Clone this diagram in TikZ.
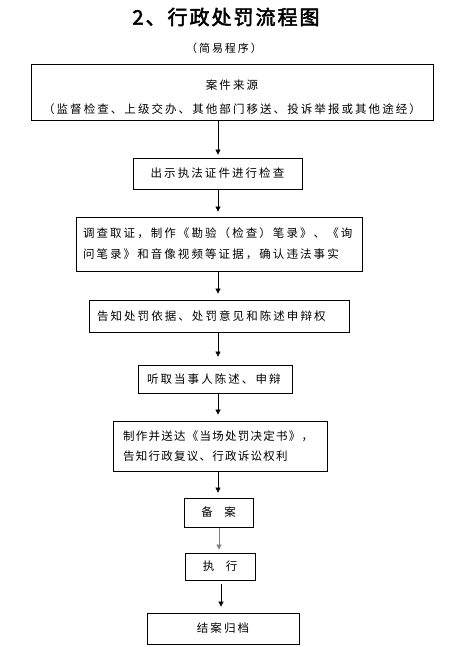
\documentclass[tikz,border=0pt]{standalone}
\usepackage{fontspec}
\setmainfont{Noto Sans CJK SC}[LetterSpace=18]
\newfontfamily\titlefont[FakeBold=2.5,LetterSpace=10]{Noto Sans CJK SC}
\usetikzlibrary{arrows.meta}
\tikzset{
  box/.style={draw=black, line width=0.8pt, rectangle, inner sep=0pt,
    font=\fontsize{11.5}{21}\selectfont, anchor=center},
  lbox/.style={box, align=left},
  cbox/.style={box, align=center},
  arr/.style={draw=black, line width=0.7pt, -{Triangle[length=5pt,width=5pt]}},
}
\begin{document}
\begin{tikzpicture}[x=1pt,y=-1pt]
\useasboundingbox (0,0) rectangle (458,647);
\fill[white] (0,0) rectangle (458,647);
\node[font=\titlefont\fontsize{20}{24}\selectfont] (title) at (226,17) {2、行政处罚流程图};
\node[font=\fontsize{11}{13}\selectfont] (sub) at (224,48) {（简易程序）};

\node[cbox, minimum width=402pt, minimum height=56pt] (b1) at (232,92)
  {\rule{0pt}{20pt}案件来源\\[3pt]（监督检查、上级交办、其他部门移送、投诉举报或其他途经）};
\node[cbox, minimum width=169pt, minimum height=31pt] (b2) at (217.5,173.5) {出示执法证件进行检查};
\node[lbox, text width=272pt, inner xsep=7pt, minimum height=54pt] (b3) at (219,244)
  {调查取证，制作《勘验（检查）笔录》、《询\\问笔录》和音像视频等证据，确认违法事实};
\node[lbox, text width=244pt, inner xsep=8pt, minimum height=32pt] (b4) at (219,316) {告知处罚依据、处罚意见和陈述申辩权};
\node[lbox, text width=136pt, inner xsep=9pt, minimum height=28pt] (b5) at (215,379) {听取当事人陈述、申辩};
\node[lbox, text width=194pt, inner xsep=10pt, minimum height=50pt, font=\fontsize{11.5}{20}\selectfont\addfontfeature{LetterSpace=11}] (b6) at (220,446)
  {制作并送达《当场处罚决定书》，\\告知行政复议、行政诉讼权利};
\node[cbox, minimum width=69pt, minimum height=29pt] (b7) at (218.5,512.5) {备\hspace{1em}案};
\node[cbox, minimum width=70pt, minimum height=27pt] (b8) at (220,566.5) {执\hspace{1em}行};
\node[cbox, minimum width=152pt, minimum height=31pt] (b9) at (223,628.5) {结案归档};

\coordinate (ax) at (218,0);
\coordinate (bx) at (219,0);
\coordinate (cx) at (221,0);
\draw[arr, shorten >=3pt] (b1.south -| ax) -- (b2.north -| ax);
\draw[arr, shorten >=5pt] (b2.south -| ax) -- (b3.north -| ax);
\draw[arr, shorten >=6pt] (b3.south -| ax) -- (b4.north -| ax);
\draw[arr, shorten >=8pt] (b4.south -| ax) -- (b5.north -| ax);
\draw[arr, shorten >=6pt] (b5.south -| ax) -- (b6.north -| ax);
\draw[arr, shorten >=5pt] (b6.south -| ax) -- (b7.north -| ax);
\draw[arr, draw=gray, shorten <=1pt, shorten >=3pt] (b7.south -| bx) -- (b8.north -| bx);
\draw[arr, shorten <=4pt, shorten >=6pt] (b8.south -| cx) -- (b9.north -| cx);
\end{tikzpicture}
\end{document}
